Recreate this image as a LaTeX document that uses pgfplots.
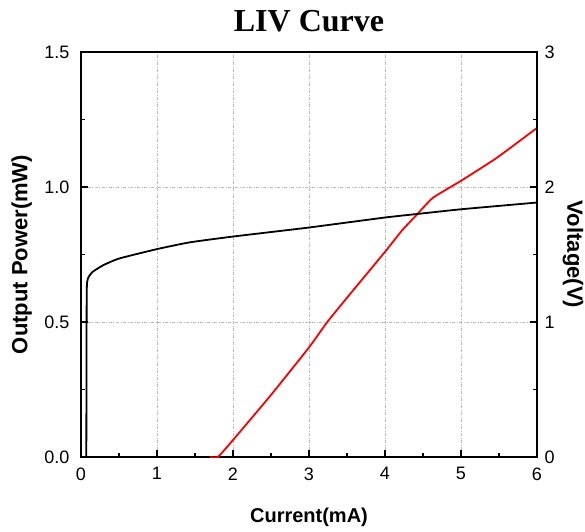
\documentclass[border=0pt]{standalone}
\usepackage{fontspec}
\setmainfont{Liberation Sans}
\newfontfamily\titlefont{Liberation Serif}
\usepackage{pgfplots}
\pgfplotsset{compat=1.18}
\begin{document}
\begin{tikzpicture}
\path[use as bounding box] (-81pt,-74pt) rectangle (504pt,457pt);
\begin{axis}[
  name=ax, anchor=south west, at={(0pt,0pt)},
  scale only axis, width=456pt, height=405pt,
  xmin=0, xmax=6, ymin=0, ymax=1.5,
  xtick={0,1,2,3,4,5,6}, ytick={0,0.5,1,1.5},
  minor x tick num=1, minor y tick num=1,
  xtick pos=bottom, ytick pos=left,
  tick align=inside,
  major tick length=7pt, minor tick length=4pt,
  every tick/.style={line width=1.8pt, black},
  axis line style={line width=2.6pt},
  grid=major,
  major grid style={gray!55, line width=0.8pt, dash pattern=on 3pt off 1.5pt on 1pt off 1.5pt},
  /pgf/number format/assume math mode=true,
  ticklabel style={font=\fontsize{18}{20}\selectfont},
  yticklabel style={/pgf/number format/fixed, /pgf/number format/fixed zerofill, /pgf/number format/precision=1, xshift=-8pt},
  xticklabel style={yshift=-7pt},
  xlabel={Current(mA)},
  ylabel={Output Power(mW)},
  xlabel style={at={(axis description cs:0.5,-0.148)}, anchor=center, font=\fontsize{20}{22}\selectfont\bfseries},
  ylabel style={at={(axis description cs:-0.13,0.5)}, anchor=center, font=\fontsize{22}{24}\selectfont\bfseries},
  title={\titlefont\bfseries LIV Curve},
  title style={at={(axis description cs:0.5,1.062)}, anchor=center, font=\fontsize{32}{34}\selectfont},
]
\addplot[red, line width=1.8pt, smooth, tension=0.3] coordinates {
(1.70,0) (1.80,0) (2.0,0.063) (2.5,0.23) (3.0,0.406) (3.24,0.5) (3.5,0.59) (4.0,0.76) (4.22,0.838) (4.42,0.898) (4.63,0.96) (5.0,1.023) (5.47,1.108) (6.0,1.219)
};
\end{axis}
\begin{axis}[
  anchor=south west, at={(0pt,0pt)},
  scale only axis, width=456pt, height=405pt,
  xmin=0, xmax=6, ymin=0, ymax=3,
  axis x line=none, axis y line*=right,
  ytick={0,1,2,3}, minor y tick num=1,
  tick align=inside,
  major tick length=7pt, minor tick length=4pt,
  every tick/.style={line width=1.8pt, black},
  axis line style={line width=2.6pt},
  /pgf/number format/assume math mode=true,
  ticklabel style={font=\fontsize{18}{20}\selectfont},
  yticklabel style={xshift=4pt},
  ylabel={Voltage(V)},
  ylabel style={at={(axis description cs:1.079,0.5)}, anchor=center, rotate=180, font=\fontsize{22}{24}\selectfont\bfseries},
]
\addplot[black, line width=1.8pt, smooth, tension=0.3] coordinates {
(0.07,0) (0.075,1.2) (0.09,1.32) (0.15,1.37) (0.29,1.42) (0.5,1.47) (1.0,1.54) (1.43,1.59) (2,1.633) (3,1.70) (4,1.774) (4.42,1.80) (5,1.835) (6,1.885)
};
\end{axis}
\end{tikzpicture}
\end{document}
